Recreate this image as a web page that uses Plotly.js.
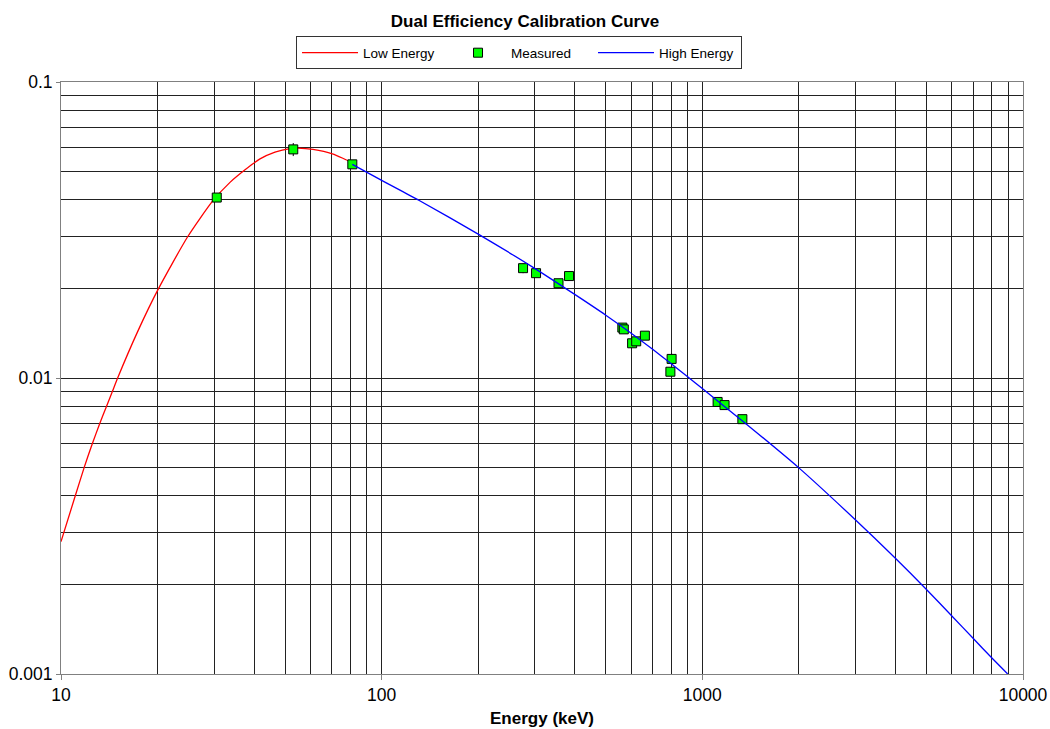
<!DOCTYPE html>
<html>
<head>
<meta charset="utf-8">
<script src="https://cdn.plot.ly/plotly-3.0.1.min.js"></script>
<style>html,body{margin:0;padding:0;background:#fff;}#chart{width:1050px;height:729px;}</style>
</head>
<body>
<div id="chart"></div>
<script>
// Low-energy curve (keV, efficiency)
const lowE   = [10, 11.08, 11.82, 12.52, 13.20, 13.85, 14.46, 15.02, 17.38, 20.12, 24.83, 29.65, 33.65, 37.49, 41.74, 46.49, 51.78, 54.8, 61.07, 70.2, 80.1, 81.5];
const lowEff = [0.0028, 0.004, 0.005, 0.006, 0.007, 0.008, 0.009, 0.010, 0.01443, 0.020, 0.030, 0.0395, 0.0458, 0.0505, 0.0550, 0.0580, 0.0596, 0.0598, 0.0592, 0.0572, 0.0536, 0.0528];

// High-energy curve
const highE   = [81, 100, 131, 200, 300, 400, 500, 600, 700, 800, 900, 1000, 1358, 2000, 3000, 4000, 5000, 6000, 7000, 8000, 8960];
const highEff = [0.0527, 0.04652, 0.03979, 0.03063, 0.02347, 0.01916, 0.0163, 0.01417, 0.0125, 0.01117, 0.0101, 0.00921, 0.00705, 0.00497, 0.00332, 0.00246, 0.00193, 0.00157, 0.001318, 0.001132, 0.001];

// Measured points
const measE   = [30.6, 53, 81, 276, 303, 356, 384, 563, 569, 604, 622, 662, 802, 795, 1116, 1173, 1333];
const measEff = [0.0407, 0.0592, 0.0527, 0.0235, 0.0226, 0.0209, 0.0221, 0.0148, 0.0146, 0.0131, 0.0133, 0.0139, 0.0116, 0.0105, 0.0083, 0.0081, 0.00726];
const measErr = [0.0010, 0.0030, 0.0012, 0.0009, 0.0006, 0.0005, 0.0008, 0.0004, 0.0004, 0.0004, 0.0003, 0.0004, 0.0005, 0.0003, 0.0002, 0.0002, 0.0002];

// Axis ticks
const xTickVals = [10, 100, 1000, 10000];
const xTickText = ['10', '100', '1000', '10000'];
const yTickVals = [0.001, 0.01, 0.1];
const yTickText = ['0.001', '0.01', '0.1'];
const xGridVals = [20,30,40,50,60,70,80,90,200,300,400,500,600,700,800,900,2000,3000,4000,5000,6000,7000,8000,9000];
const yGridVals = [0.002,0.003,0.004,0.005,0.006,0.007,0.008,0.009,0.02,0.03,0.04,0.05,0.06,0.07,0.08,0.09];

const FONT = '"Liberation Sans", Arial, sans-serif';

const traces = [
  {x: lowE, y: lowEff, mode: 'lines', name: 'Low Energy',
   line: {color: '#ff0000', width: 1.3, shape: 'spline', smoothing: 0.6}},
  {x: measE, y: measEff, mode: 'markers', name: 'Measured',
   marker: {symbol: 'square', size: 9, color: '#00ff00', line: {color: '#000', width: 1}},
   error_y: {type: 'data', array: measErr, visible: true, color: '#000', thickness: 1, width: 0}},
  {x: highE, y: highEff, mode: 'lines', name: 'High Energy',
   line: {color: '#0000ff', width: 1.3, shape: 'spline', smoothing: 0.6}}
];

const layout = {
  width: 1050, height: 729,
  paper_bgcolor: '#fff', plot_bgcolor: '#fff',
  font: {family: FONT, size: 17, color: '#000'},
  margin: {l: 61, r: 27, t: 82, b: 55},
  showlegend: true,
  title: {text: '<b>Dual Efficiency Calibration Curve</b>', font: {family: FONT, size: 17},
          x: 0.5, xref: 'container', xanchor: 'center', y: 0.971, yref: 'container', yanchor: 'middle'},
  legend: {orientation: 'h', x: 0.2443, xanchor: 'left', y: 1.077, yanchor: 'top',
           bordercolor: '#333', borderwidth: 1, bgcolor: '#fff',
           font: {family: FONT, size: 13.5}, entrywidth: 77, itemwidth: 56},
  xaxis: {type: 'log', range: [1, 4], tickmode: 'array', tickvals: xTickVals, ticktext: xTickText,
          showgrid: true, gridcolor: '#222', gridwidth: 1,
          minor: {tickmode: 'array', tickvals: xGridVals, showgrid: true, gridcolor: '#222', gridwidth: 1, ticks: ''},
          showline: true, linecolor: '#808080', linewidth: 1, mirror: true,
          ticks: 'outside', ticklen: 5, tickcolor: '#808080',
          tickfont: {size: 17.5}, zeroline: false,
          title: {text: '<b>Energy (keV)</b>', font: {size: 17}, standoff: 8}},
  yaxis: {type: 'log', range: [-3, -1], tickmode: 'array', tickvals: yTickVals, ticktext: yTickText,
          showgrid: true, gridcolor: '#222', gridwidth: 1,
          minor: {tickmode: 'array', tickvals: yGridVals, showgrid: true, gridcolor: '#222', gridwidth: 1, ticks: ''},
          showline: true, linecolor: '#808080', linewidth: 1, mirror: true,
          ticks: 'outside', ticklen: 4, tickcolor: '#808080',
          tickfont: {size: 17.5}, zeroline: false}
};

Plotly.newPlot('chart', traces, layout, {displayModeBar: false, staticPlot: true});
</script>
</body>
</html>
